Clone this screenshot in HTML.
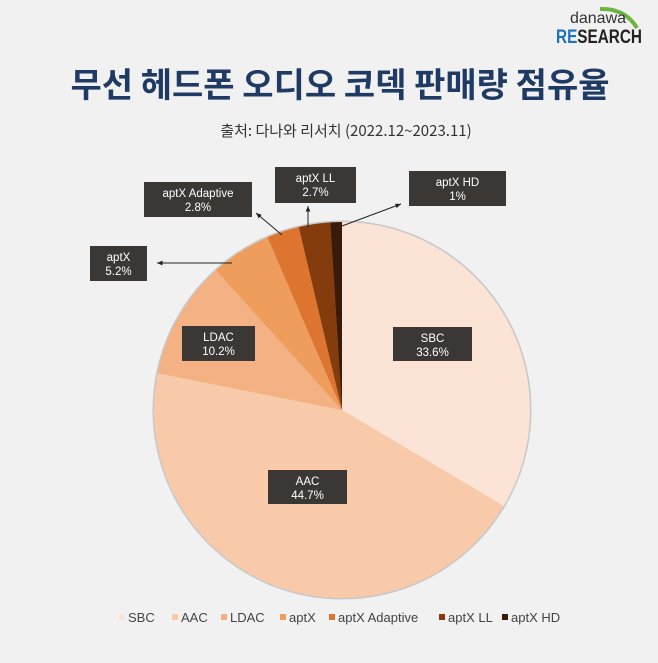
<!DOCTYPE html>
<html><head><meta charset="utf-8"><style>
body{margin:0;width:658px;height:658px;background:#f1f1f1;font-family:"Liberation Sans","Noto Sans CJK KR",sans-serif;overflow:hidden}
</style></head><body>
<svg width="658" height="658" id="c" xmlns="http://www.w3.org/2000/svg">
<g>
<path d="M600 9 Q625 8 637 28" stroke="#6cb33f" stroke-width="4" fill="none"/>
<text x="598" y="23" font-size="16" fill="#333" text-anchor="middle" font-family="Liberation Sans Narrow, Liberation Sans, sans-serif">danawa</text>
<text x="599" y="43" font-size="19" font-weight="bold" text-anchor="middle" textLength="86" lengthAdjust="spacingAndGlyphs"><tspan fill="#1f6fc0">RE</tspan><tspan fill="#222">SEARCH</tspan></text>
</g>
<text x="340" y="97" font-size="34" font-weight="bold" fill="#1f3b63" text-anchor="middle" font-family="Noto Sans CJK KR, sans-serif">무선 헤드폰 오디오 코덱 판매량 점유율</text>
<text x="346" y="136" font-size="15" fill="#333" text-anchor="middle" font-family="Noto Sans CJK KR, sans-serif">출처: 다나와 리서치 (2022.12~2023.11)</text>
<g id="pie"></g><g id="labels"></g><g id="legend"></g>
</svg>
<script>
const categories=["SBC","AAC","LDAC","aptX","aptX Adaptive","aptX LL","aptX HD"];
const values=[33.6,44.7,10.2,5.2,2.8,2.7,1];
const valueLabels=["33.6%","44.7%","10.2%","5.2%","2.8%","2.7%","1%"];
const colors=["#fbe4d5","#f8caa9","#f4b183","#ef9d5c","#dd7430","#843c0c","#3a1a08"];
const NS="http://www.w3.org/2000/svg";
const cx=342,cy=410,r=188;
const total=values.reduce((a,b)=>a+b,0);
function pt(f,rr){const a=f*2*Math.PI;return [cx+rr*Math.sin(a),cy-rr*Math.cos(a)];}
const pie=document.getElementById('pie');
const circ=document.createElementNS(NS,'circle');
circ.setAttribute('cx',cx);circ.setAttribute('cy',cy);circ.setAttribute('r',r+1.5);circ.setAttribute('fill','#c8c8c8');


pie.appendChild(circ);
let acc=0;
values.forEach((v,i)=>{
 const s=acc/total,e=(acc+v)/total;acc+=v;
 const [x1,y1]=pt(s,r),[x2,y2]=pt(e,r);
 const p=document.createElementNS(NS,'path');
 p.setAttribute('d',`M${cx},${cy}L${x1},${y1}A${r},${r} 0 ${e-s>0.5?1:0} 1 ${x2},${y2}Z`);
 p.setAttribute('fill',colors[i]);
 
 
 pie.appendChild(p);
});
const boxes=[[393,327,79,34],[268,470,79,34],[182,326,73,35],[90,246,57,35],[144,182,108,35],[275,167,81,36],[409,171,97,35]];
const arrows=[null,null,null,[232,263,157,263],[282,235,256,213],[308,227,308,206],[342,226,401,204]];
const lg=document.getElementById('labels');
categories.forEach((c,i)=>{
 const [x,y,w,h]=boxes[i];
 const g=document.createElementNS(NS,'g');
 
 
 g.innerHTML=`<rect x="${x}" y="${y}" width="${w}" height="${h}" fill="#3b3735"/><text x="${x+w/2}" y="${y+15}" font-size="11.5" fill="#fff" text-anchor="middle">${c}</text><text x="${x+w/2}" y="${y+29}" font-size="11.5" fill="#fff" text-anchor="middle">${valueLabels[i]}</text>`;
 lg.appendChild(g);
 if(arrows[i]){const [a,b,cc,d]=arrows[i];
  const ar=document.createElementNS(NS,'g');
  
  
  const ang=Math.atan2(d-b,cc-a);
  const hx1=cc-6*Math.cos(ang-0.4),hy1=d-6*Math.sin(ang-0.4),hx2=cc-6*Math.cos(ang+0.4),hy2=d-6*Math.sin(ang+0.4);
  ar.innerHTML=`<line x1="${a}" y1="${b}" x2="${cc}" y2="${d}" stroke="#222" stroke-width="1"/><polygon points="${cc},${d} ${hx1},${hy1} ${hx2},${hy2}" fill="#222"/>`;
  lg.appendChild(ar);}
});
const leg=document.getElementById('legend');
const legX=[128,181,230,289,338,448,511];
categories.forEach((c,i)=>{
 const g=document.createElementNS(NS,'g');
 
 
 g.innerHTML=`<rect x="${legX[i]-9}" y="614" width="6" height="6" fill="${colors[i]}"/><text x="${legX[i]}" y="622" font-size="13" fill="#444">${c}</text>`;
 leg.appendChild(g);
});
</script>
</body></html>
